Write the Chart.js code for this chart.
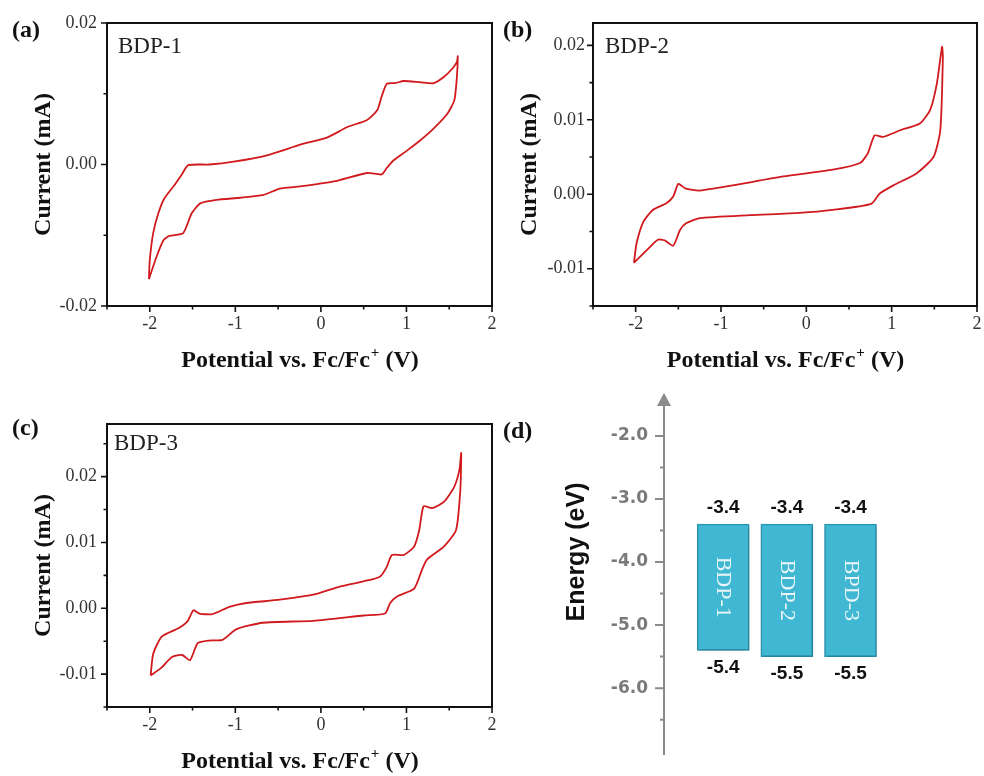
<!DOCTYPE html>
<html>
<head>
<meta charset="utf-8">
<script src="https://cdn.jsdelivr.net/npm/chart.js@4.4.1/dist/chart.umd.min.js"></script>
<style>
  html, body { margin: 0; padding: 0; background: #fff; }
  body { width: 984px; height: 776px; position: relative; overflow: hidden; }
  canvas { position: absolute; }
</style>
</head>
<body>
<canvas id="cvA" width="500" height="380" style="left:0;top:0"></canvas>
<canvas id="cvB" width="492" height="380" style="left:492px;top:0"></canvas>
<canvas id="cvC" width="500" height="396" style="left:0;top:380px"></canvas>
<canvas id="levels" width="492" height="396" style="left:492px;top:380px"></canvas>
<script>
// === Zyklovoltammogramme: Potential (V vs. Fc/Fc+) und Strom (mA), als geschlossene Schleife ===
const potBDP1 = [-2.01, -2.00, -1.96, -1.90, -1.83, -1.71, -1.63, -1.55, -1.30, -1.02, -0.63, -0.24, 0.07, 0.31, 0.54, 0.66, 0.71, 0.77, 0.87, 0.97, 1.17, 1.32, 1.44, 1.54, 1.59, 1.60,
  1.59, 1.56, 1.48, 1.32, 1.17, 1.01, 0.85, 0.77, 0.71, 0.54, 0.15, -0.24, -0.48, -0.67, -0.94, -1.22, -1.41, -1.51, -1.61, -1.77, -1.84, -1.92, -2.01];
const curBDP1 = [-0.0162, -0.0135, -0.0097, -0.0069, -0.0048, -0.0029, -0.0015, -0.0001, 0.0000, 0.0004, 0.0013, 0.0028, 0.0038, 0.0053, 0.0063, 0.0077, 0.0096, 0.0114, 0.0115, 0.0118, 0.0116, 0.0115, 0.0124, 0.0136, 0.0145, 0.0153,
  0.0124, 0.0091, 0.0072, 0.0051, 0.0035, 0.0020, 0.0006, -0.0005, -0.0014, -0.0012, -0.0024, -0.0031, -0.0034, -0.0043, -0.0047, -0.0050, -0.0055, -0.0069, -0.0097, -0.0101, -0.0107, -0.0130, -0.0162];

const potBDP2 = [-2.02, -1.99, -1.91, -1.80, -1.64, -1.56, -1.50, -1.42, -1.25, -0.86, -0.27, 0.31, 0.63, 0.72, 0.80, 0.90, 1.10, 1.33, 1.45, 1.53, 1.59,
  1.60, 1.57, 1.49, 1.29, 1.02, 0.86, 0.76, 0.31, -0.08, -0.66, -1.25, -1.41, -1.48, -1.56, -1.66, -1.74, -1.87, -2.02];
const curBDP2 = [-0.0092, -0.0066, -0.0037, -0.0021, -0.0012, -0.0003, 0.0014, 0.0008, 0.0005, 0.0012, 0.0024, 0.0033, 0.0042, 0.0055, 0.0079, 0.0077, 0.0086, 0.0095, 0.0113, 0.0149, 0.0198,
  0.0184, 0.0086, 0.0050, 0.0028, 0.0012, 0.0001, -0.0013, -0.0021, -0.0025, -0.0028, -0.0032, -0.0039, -0.0048, -0.0069, -0.0062, -0.0061, -0.0075, -0.0092];

const potBDP3 = [-1.99, -1.96, -1.86, -1.66, -1.56, -1.49, -1.42, -1.27, -1.07, -0.87, -0.48, -0.05, 0.22, 0.50, 0.69, 0.77, 0.83, 0.97, 1.09, 1.15, 1.20, 1.30, 1.44, 1.56, 1.62, 1.64,
  1.63, 1.58, 1.44, 1.24, 1.18, 1.09, 0.89, 0.81, 0.75, 0.50, -0.09, -0.68, -0.99, -1.15, -1.31, -1.44, -1.53, -1.62, -1.74, -1.87, -1.99];
const curBDP3 = [-0.0102, -0.0069, -0.0043, -0.0030, -0.0020, -0.0003, -0.0008, -0.0009, 0.0002, 0.0008, 0.0013, 0.0022, 0.0033, 0.0041, 0.0048, 0.0063, 0.0081, 0.0081, 0.0094, 0.0119, 0.0155, 0.0152, 0.0162, 0.0185, 0.0211, 0.0236,
  0.0180, 0.0119, 0.0094, 0.0074, 0.0058, 0.0030, 0.0018, 0.0008, -0.0008, -0.0011, -0.0019, -0.0022, -0.0032, -0.0048, -0.0049, -0.0053, -0.0079, -0.0071, -0.0074, -0.0091, -0.0102];

// Achsenteilung (beschriftet werden nur die ganzen Werte)
const potTicks = [-2.5, -2, -1.5, -1, -0.5, 0, 0.5, 1, 1.5, 2];
const curTicksA = [-0.02, -0.01, 0, 0.01, 0.02];
const curTicksB = [-0.015, -0.01, -0.005, 0, 0.005, 0.01, 0.015, 0.02];
const curTicksC = [-0.015, -0.01, -0.005, 0, 0.005, 0.01, 0.015, 0.02, 0.025];

// === Energieniveaus (eV) ===
const materials = ['BDP-1', 'BDP-2', 'BPD-3'];
const lumo = [-3.4, -3.4, -3.4];
const homo = [-5.4, -5.5, -5.5];
const energyTicks = [-6.5, -6, -5.5, -5, -4.5, -4, -3.5, -3, -2.5, -2];

const SERIF = '"Liberation Serif", "Times New Roman", serif';
const SANS = '"Liberation Sans", Arial, sans-serif';

function toXY(xs, ys) {
  return xs.map((x, i) => ({ x: x, y: ys[i] }));
}

// Rahmen, Haupt-/Nebenstriche, Achsentitel und Panel-Beschriftung
const cvFrame = {
  id: 'cvFrame',
  afterDraw(chart, args, o) {
    const { ctx, chartArea: a } = chart;
    const sx = chart.scales.x, sy = chart.scales.y;
    ctx.save();
    ctx.strokeStyle = '#111';
    ctx.lineWidth = 2;
    ctx.strokeRect(a.left, a.top, a.right - a.left, a.bottom - a.top);

    ctx.lineWidth = 1.6;
    ctx.beginPath();
    sx.ticks.forEach(t => {
      const px = sx.getPixelForValue(t.value);
      const len = t.label ? 6 : 3.5;
      ctx.moveTo(px, a.bottom);
      ctx.lineTo(px, a.bottom + len);
    });
    sy.ticks.forEach(t => {
      const py = sy.getPixelForValue(t.value);
      const len = t.label ? 6 : 3.5;
      ctx.moveTo(a.left, py);
      ctx.lineTo(a.left - len, py);
    });
    ctx.stroke();

    ctx.fillStyle = '#111';
    // y-Titel
    ctx.font = 'bold 24px ' + SERIF;
    ctx.save();
    ctx.translate(a.left - 63, (a.top + a.bottom) / 2);
    ctx.rotate(-Math.PI / 2);
    ctx.textAlign = 'center';
    ctx.textBaseline = 'middle';
    ctx.fillText('Current (mA)', 0, 0);
    ctx.restore();

    // x-Titel mit hochgestelltem +
    const p1 = 'Potential vs. Fc/Fc', sup = '+', p2 = ' (V)';
    ctx.textAlign = 'left';
    ctx.textBaseline = 'alphabetic';
    ctx.font = 'bold 24px ' + SERIF;
    const w1 = ctx.measureText(p1).width, w3 = ctx.measureText(p2).width;
    ctx.font = 'bold 15px ' + SERIF;
    const w2 = ctx.measureText(sup).width;
    let xs = (a.left + a.right) / 2 - (w1 + w2 + w3) / 2;
    const base = a.bottom + 61;
    ctx.font = 'bold 24px ' + SERIF;
    ctx.fillText(p1, xs, base);
    ctx.font = 'bold 15px ' + SERIF;
    ctx.fillText(sup, xs + w1 + 1, base - 10);
    ctx.font = 'bold 24px ' + SERIF;
    ctx.fillText(p2, xs + w1 + w2 + 1, base);

    // Panel-Buchstabe und Probenname
    ctx.font = 'bold 24px ' + SERIF;
    ctx.fillText(o.tag, o.tagX, o.tagY);
    ctx.fillStyle = '#222';
    ctx.font = '23px ' + SERIF;
    ctx.fillText(o.name, o.nameX, o.nameY);
    ctx.restore();
  }
};

// canvasId, Messpunkte, y-Bereich, y-Striche, Beschriftungsraster, Layout
function plotCV(canvasId, pot, cur, yMin, yMax, yTicks, labelStep, layout, text) {
  const canvas = document.getElementById(canvasId);
  const isLabeled = v => Math.abs(v / labelStep - Math.round(v / labelStep)) < 1e-6;

  return new Chart(canvas, {
    type: 'scatter',
    data: {
      datasets: [{
        data: toXY(pot, cur),
        showLine: true,
        borderColor: '#d01a1e',
        borderWidth: 1.8,
        pointRadius: 0,
        tension: 0.2,
        fill: false
      }]
    },
    options: {
      responsive: false,
      animation: false,
      layout: { padding: layout.padding },
      plugins: {
        legend: { display: false },
        tooltip: { enabled: false },
        cvFrame: text
      },
      scales: {
        x: {
          type: 'linear',
          min: -2.5,
          max: 2,
          grid: { display: false, drawTicks: false },
          border: { display: false },
          afterBuildTicks: s => { s.ticks = potTicks.map(v => ({ value: v })); },
          afterFit: s => {
            s.height = layout.xHeight;
            s.paddingLeft = 0;   // Randbeschriftung darf über den Plotbereich hinausragen
            s.paddingRight = 0;
          },
          ticks: {
            color: '#333',
            padding: 7,
            maxRotation: 0,
            autoSkip: false,
            font: { family: SERIF, size: 18 },
            callback: v => Number.isInteger(v) ? String(v) : ''
          }
        },
        y: {
          type: 'linear',
          min: yMin,
          max: yMax,
          grid: { display: false, drawTicks: false },
          border: { display: false },
          afterBuildTicks: s => { s.ticks = yTicks.map(v => ({ value: v })); },
          afterFit: s => {
            s.width = layout.yWidth;
            s.paddingTop = 0;
            s.paddingBottom = 0;
          },
          ticks: {
            color: '#333',
            padding: layout.yPad,
            autoSkip: false,
            font: { family: SERIF, size: 18 },
            callback: v => isLabeled(v) ? v.toFixed(2) : ''
          }
        }
      }
    },
    plugins: [cvFrame]
  });
}

plotCV('cvA', potBDP1, curBDP1, -0.02, 0.02, curTicksA, 0.02,
  { padding: { left: 0, top: 23, right: 8, bottom: 0 }, xHeight: 74, yWidth: 107, yPad: 10 },
  { tag: '(a)', tagX: 12, tagY: 37, name: 'BDP-1', nameX: 118, nameY: 53 });

plotCV('cvB', potBDP2, curBDP2, -0.015, 0.023, curTicksB, 0.01,
  { padding: { left: 0, top: 23, right: 7, bottom: 0 }, xHeight: 74, yWidth: 101, yPad: 8 },
  { tag: '(b)', tagX: 11, tagY: 37, name: 'BDP-2', nameX: 113, nameY: 53 });

plotCV('cvC', potBDP3, curBDP3, -0.015, 0.028, curTicksC, 0.01,
  { padding: { left: 0, top: 44, right: 8, bottom: 0 }, xHeight: 69, yWidth: 107, yPad: 10 },
  { tag: '(c)', tagX: 12, tagY: 55, name: 'BDP-3', nameX: 114, nameY: 70 });

// === Energieschema: Achse mit Pfeil, Striche, Werte an den Balken ===
const levelDecor = {
  id: 'levelDecor',
  beforeDatasetsDraw(chart) {
    // leichter Schatten unter den Balken
    const ctx = chart.ctx;
    ctx.save();
    ctx.shadowColor = 'rgba(0,0,0,0.25)';
    ctx.shadowBlur = 3;
    ctx.shadowOffsetX = 1;
    ctx.shadowOffsetY = 2;
  },
  afterDatasetsDraw(chart) {
    chart.ctx.restore();
  },
  afterDraw(chart) {
    const { ctx, chartArea: a } = chart;
    const sy = chart.scales.y;
    const ax = a.left;
    ctx.save();
    ctx.strokeStyle = '#8a8a8a';
    ctx.fillStyle = '#8a8a8a';
    ctx.lineWidth = 2;
    ctx.beginPath();
    ctx.moveTo(ax, a.bottom);
    ctx.lineTo(ax, a.top + 10);
    energyTicks.forEach(v => {
      const py = sy.getPixelForValue(v);
      const len = Number.isInteger(v) ? 9 : 4;
      ctx.moveTo(ax, py);
      ctx.lineTo(ax - len, py);
    });
    ctx.stroke();
    ctx.beginPath();
    ctx.moveTo(ax, a.top);
    ctx.lineTo(ax - 7, a.top + 13);
    ctx.lineTo(ax + 7, a.top + 13);
    ctx.closePath();
    ctx.fill();

    // Achsentitel
    ctx.fillStyle = '#111';
    ctx.font = 'bold 25px ' + SANS;
    ctx.save();
    ctx.translate(ax - 87, a.top + 159);
    ctx.rotate(-Math.PI / 2);
    ctx.textAlign = 'center';
    ctx.textBaseline = 'middle';
    ctx.fillText('Energy (eV)', 0, 0);
    ctx.restore();

    // Werte über/unter den Balken und Namen in den Balken
    const meta = chart.getDatasetMeta(0);
    meta.data.forEach((bar, i) => {
      const top = Math.min(bar.y, bar.base), bottom = Math.max(bar.y, bar.base);
      ctx.fillStyle = '#111';
      ctx.font = 'bold 19px ' + SANS;
      ctx.textAlign = 'center';
      ctx.textBaseline = 'middle';
      ctx.fillText(lumo[i].toFixed(1), bar.x, top - 16);
      ctx.fillText(homo[i].toFixed(1), bar.x, bottom + 17);

      ctx.save();
      ctx.translate(bar.x, (top + bottom) / 2);
      ctx.rotate(Math.PI / 2);
      ctx.fillStyle = '#eaf6fa';
      ctx.font = '22px ' + SERIF;
      ctx.fillText(materials[i], 0, 0);
      ctx.restore();
    });

    ctx.fillStyle = '#111';
    ctx.textAlign = 'left';
    ctx.textBaseline = 'alphabetic';
    ctx.font = 'bold 24px ' + SERIF;
    ctx.fillText('(d)', 11, 58);
    ctx.restore();
  }
};

new Chart(document.getElementById('levels'), {
  type: 'bar',
  data: {
    datasets: [{
      data: materials.map((m, i) => ({ x: i + 1, y: [homo[i], lumo[i]] })),
      backgroundColor: '#41b8d3',
      borderColor: '#2b97b2',
      borderWidth: 1.5,
      borderSkipped: false,
      barThickness: 52
    }]
  },
  options: {
    responsive: false,
    animation: false,
    layout: { padding: { left: 0, top: 13, right: 38, bottom: 21 } },
    plugins: {
      legend: { display: false },
      tooltip: { enabled: false }
    },
    scales: {
      x: { type: 'linear', min: 0.07, max: 4.5, offset: false, display: false },
      y: {
        type: 'linear',
        min: -7.06,
        max: -1.32,
        grid: { display: false, drawTicks: false },
        border: { display: false },
        afterBuildTicks: s => { s.ticks = energyTicks.map(v => ({ value: v })); },
        afterFit: s => {
          s.width = 172;
          s.paddingTop = 0;
          s.paddingBottom = 0;
        },
        ticks: {
          color: '#7a7a7a',
          padding: 16,
          autoSkip: false,
          font: { family: '"DejaVu Sans", sans-serif', size: 17, weight: 'bold' },
          callback: v => Number.isInteger(v) ? v.toFixed(1) : ''
        }
      }
    }
  },
  plugins: [levelDecor]
});
</script>
</body>
</html>
